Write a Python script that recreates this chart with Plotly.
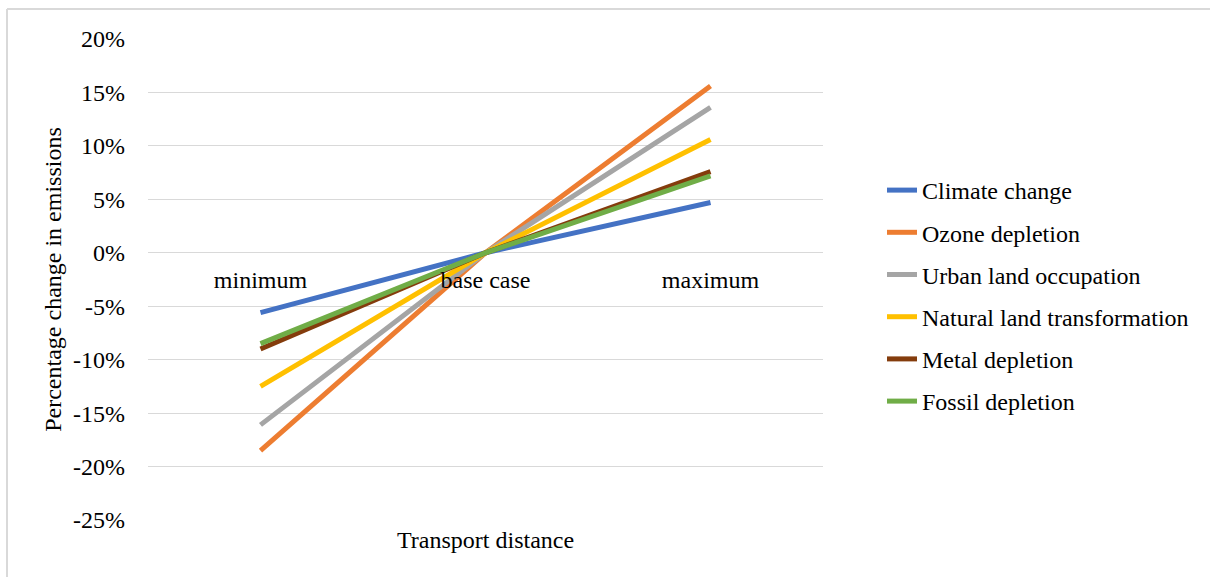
import plotly.graph_objects as go

categories = ["minimum", "base case", "maximum"]
series_names = ["Climate change", "Ozone depletion", "Urban land occupation",
                "Natural land transformation", "Metal depletion", "Fossil depletion"]
climate_change = [-5.6, 0.0, 4.7]
ozone_depletion = [-18.5, 0.0, 15.6]
urban_land_occupation = [-16.1, 0.0, 13.6]
natural_land_transformation = [-12.5, 0.0, 10.6]
metal_depletion = [-9.0, 0.0, 7.6]
fossil_depletion = [-8.5, 0.0, 7.2]
y_ticks = [20, 15, 10, 5, 0, -5, -10, -15, -20, -25]
y_tick_labels = ["20%", "15%", "10%", "5%", "0%", "-5%", "-10%", "-15%", "-20%", "-25%"]

values = [climate_change, ozone_depletion, urban_land_occupation,
          natural_land_transformation, metal_depletion, fossil_depletion]
colors = ["#4472C4", "#ED7D31", "#A5A5A5", "#FFC000", "#843C0C", "#70AD47"]

FONT = "Liberation Serif"
FS = 24

fig = go.Figure()
for i, (name, vals, col) in enumerate(zip(series_names, values, colors)):
    fig.add_trace(go.Scatter(
        x=categories, y=vals, name=name, mode="lines",
        line=dict(color=col, width=5),
        legendgroup="g%d" % i,
    ))

W, H = 1210, 577
L, R, T, B = 148, 1210 - 823, 39, 577 - 520
pw, ph = W - L - R, H - T - B
ymin, ymax = -25, 20
zero_frac = (0 - ymin) / (ymax - ymin)

fig.update_layout(
    width=W, height=H,
    margin=dict(l=L, r=R, t=T, b=B),
    paper_bgcolor="white", plot_bgcolor="white",
    font=dict(family=FONT, size=FS, color="#000000"),
    showlegend=True,
    legend=dict(
        x=(882 - L) / pw, y=(H - B - 168) / ph, xanchor="left", yanchor="top",
        font=dict(family=FONT, size=FS, color="#000000"),
        tracegroupgap=8, itemwidth=30,
        bgcolor="rgba(0,0,0,0)",
    ),
    xaxis=dict(
        type="category", range=[-0.5, 2.5],
        anchor="free", position=zero_frac,
        showgrid=False, showline=False, zeroline=False,
        ticks="", tickfont=dict(family=FONT, size=FS, color="#000000"),
        ticklabelstandoff=10,
    ),
    yaxis=dict(
        range=[ymin, ymax], tickvals=y_ticks, ticktext=y_tick_labels,
        showgrid=True, gridcolor="#D9D9D9", gridwidth=1.3,
        zeroline=False, showline=False, ticks="",
        tickfont=dict(family=FONT, size=FS, color="#000000"),
        ticklabelstandoff=22,
        title=dict(text="Percentage change in emissions",
                   font=dict(family=FONT, size=FS, color="#000000"), standoff=4),
    ),
    annotations=[dict(
        text="Transport distance", x=0.5, xref="paper", y=(H - B - 540) / ph, yref="paper",
        xanchor="center", yanchor="middle", showarrow=False,
        font=dict(family=FONT, size=FS, color="#000000"),
    )],
    shapes=[
        dict(type="line", xref="paper", yref="paper",
             x0=(7 - L) / pw, x1=(1215 - L) / pw,
             y0=(H - B - 9) / ph, y1=(H - B - 9) / ph,
             line=dict(color="#D9D9D9", width=2)),
        dict(type="line", xref="paper", yref="paper",
             x0=(7 - L) / pw, x1=(7 - L) / pw,
             y0=(H - B - 9) / ph, y1=(H - B - 585) / ph,
             line=dict(color="#D9D9D9", width=2)),
    ],
)

fig.write_html("out.html")
